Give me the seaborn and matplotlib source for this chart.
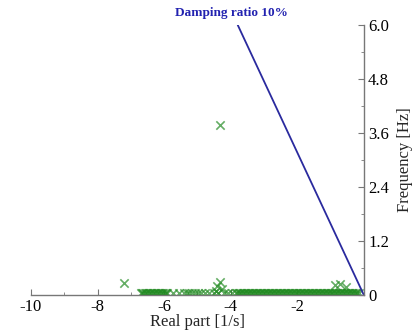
import numpy as np
import pandas as pd
import seaborn as sns
import matplotlib.pyplot as plt

# eigenvalues: real part [1/s] and frequency [Hz]
real_band = [-6.70, -6.66, -6.62, -6.58, -6.54, -6.50, -6.46, -6.42, -6.38, -6.34,
             -6.30, -6.26, -6.22, -6.18, -6.14, -6.10, -6.06, -6.02, -5.98, -5.94,
             -5.90, -5.72, -5.55, -5.40, -5.32, -5.25, -5.15, -5.08, -4.98, -4.90,
             -4.78, -4.65, -4.50, -4.38, -4.20, -4.08, -3.95, -3.85, -3.80, -3.76,
             -3.72, -3.68, -3.64, -3.60, -3.56, -3.52, -3.48, -3.44, -3.40, -3.36,
             -3.32, -3.28, -3.24, -3.20, -3.16, -3.12, -3.08, -3.04, -3.00, -2.96,
             -2.92, -2.88, -2.84, -2.80, -2.76, -2.72, -2.68, -2.64, -2.60, -2.56,
             -2.52, -2.48, -2.44, -2.40, -2.36, -2.32, -2.28, -2.24, -2.20, -2.16,
             -2.12, -2.08, -2.04, -2.00, -1.96, -1.92, -1.88, -1.84, -1.80, -1.76,
             -1.72, -1.68, -1.64, -1.60, -1.56, -1.52, -1.48, -1.44, -1.40, -1.36,
             -1.32, -1.28, -1.24, -1.20, -1.16, -1.12, -1.08, -1.04, -1.00, -0.96,
             -0.92, -0.88, -0.84, -0.80, -0.76, -0.72, -0.68, -0.64, -0.60, -0.56,
             -0.52, -0.48, -0.44, -0.40, -0.36, -0.32, -0.28, -0.24, -0.20, -0.16]
freq_band = [0.05] * len(real_band)

real_upper = [-7.20, -4.40, -4.32, -4.25, -4.45, -0.88, -0.72, -0.55, -4.33]
freq_upper = [0.26, 0.20, 0.28, 0.14, 0.10, 0.22, 0.24, 0.18, 3.78]

# damping ratio 10% line: end points at f = 0 and f = 6
zeta = 0.10
line_freq = [0.0, 6.0]
line_real = [-zeta / np.sqrt(1 - zeta**2) * 2 * np.pi * f for f in line_freq]

df = pd.DataFrame({'real': real_band + real_upper, 'freq': freq_band + freq_upper})
line_df = pd.DataFrame({'real': line_real, 'freq': line_freq})

sns.set_style('ticks')
plt.rcParams['font.family'] = ['Liberation Serif', 'DejaVu Serif']

fig = plt.figure(figsize=(4.13, 3.33), dpi=100)
ax = fig.add_axes([0.075, 0.114, 0.806, 0.811])

sns.lineplot(ax=ax, data=line_df, x='real', y='freq', color='#2a2a9e', lw=1.3,
             sort=False, estimator=None)
sns.scatterplot(ax=ax, data=df, x='real', y='freq', marker='x', color='#228b22',
                s=36, linewidth=1.2, alpha=0.7)

ax.text(-3.97, 6.26, 'Damping ratio 10%', color='#2222b0', fontsize=9.5,
        fontweight='bold', ha='center', va='center')

ax.set_xlim(-10, 0)
ax.set_ylim(0, 6.0)
ax.set_xticks([-10, -8, -6, -4, -2])
ax.set_xticklabels(['-10', '-8', '-6', '-4', '-2'])
ax.set_xticks(np.arange(-10, 0, 1.0), minor=True)
ax.set_yticks([0, 1.2, 2.4, 3.6, 4.8, 6.0])
ax.set_yticklabels(['0', '1.2', '2.4', '3.6', '4.8', '6.0'])
ax.set_yticks(np.arange(0, 6.0, 0.6), minor=True)

ax.spines['top'].set_visible(False)
ax.spines['left'].set_visible(False)
for s in ['bottom', 'right']:
    ax.spines[s].set_color('#777777')
    ax.spines[s].set_linewidth(1.0)
ax.yaxis.tick_right()
ax.yaxis.set_label_position('right')
ax.tick_params(axis='both', which='both', direction='in', colors='#777777',
               labelcolor='black', labelsize=12)
ax.tick_params(which='major', length=4)
ax.tick_params(which='minor', length=2)
ax.tick_params(axis='x', pad=3)
ax.tick_params(axis='y', pad=3)

ax.set_xlabel('Real part [1/s]', fontsize=12, labelpad=-1)
ax.set_ylabel('Frequency [Hz]', fontsize=12, labelpad=6)

fig.savefig('out.png', dpi=100)
